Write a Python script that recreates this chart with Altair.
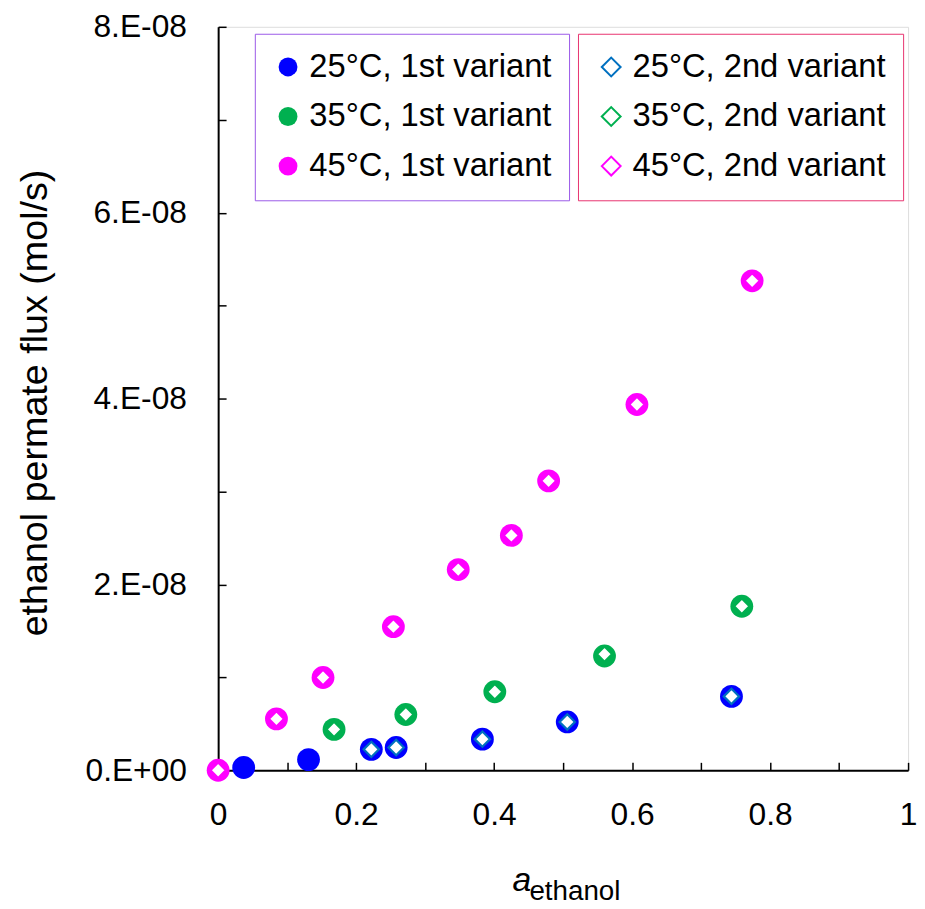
import altair as alt
import pandas as pd

# ---- data ----
x_25_first = [0.037, 0.131, 0.222, 0.258, 0.383, 0.506, 0.744]
y_25_first = [0.03e-8, 0.115e-8, 0.225e-8, 0.245e-8, 0.335e-8, 0.52e-8, 0.795e-8]
x_35_first = [0.168, 0.272, 0.401, 0.560, 0.759]
y_35_first = [0.44e-8, 0.60e-8, 0.845e-8, 1.23e-8, 1.765e-8]
x_45_first = [0.0, 0.0845, 0.152, 0.254, 0.348, 0.425, 0.479, 0.607, 0.774]
y_45_first = [0.0, 0.553e-8, 0.998e-8, 1.545e-8, 2.16e-8, 2.527e-8, 3.114e-8, 3.936e-8, 5.267e-8]

x_25_second = [0.222, 0.258, 0.383, 0.506, 0.744]
y_25_second = [0.225e-8, 0.245e-8, 0.335e-8, 0.52e-8, 0.795e-8]
x_35_second = [0.168, 0.272, 0.401, 0.560, 0.759]
y_35_second = [0.44e-8, 0.60e-8, 0.845e-8, 1.25e-8, 1.765e-8]
x_45_second = [0.0, 0.0845, 0.152, 0.254, 0.348, 0.425, 0.479, 0.607, 0.774]
y_45_second = [0.0, 0.553e-8, 0.998e-8, 1.545e-8, 2.16e-8, 2.527e-8, 3.114e-8, 3.936e-8, 5.267e-8]

first_labels = ["25°C, 1st variant", "35°C, 1st variant", "45°C, 1st variant"]
second_labels = ["25°C, 2nd variant", "35°C, 2nd variant", "45°C, 2nd variant"]
first_colors = ["#0000FF", "#00B050", "#FF00FF"]
second_colors = ["#0070C0", "#00B050", "#FF00FF"]

x_ticks = [0, 0.1, 0.2, 0.3, 0.4, 0.5, 0.6, 0.7, 0.8, 0.9, 1.0]
y_ticks = [0, 1e-8, 2e-8, 3e-8, 4e-8, 5e-8, 6e-8, 7e-8, 8e-8]

y_title = "ethanol permate flux (mol/s)"
x_title_main = "a"
x_title_sub = "ethanol"


def frame(xs, ys, label):
    return pd.DataFrame({"x": xs, "y": ys, "series": label})


first = pd.concat([
    frame(x_25_first, y_25_first, first_labels[0]),
    frame(x_35_first, y_35_first, first_labels[1]),
    frame(x_45_first, y_45_first, first_labels[2]),
])
second = pd.concat([
    frame(x_25_second, y_25_second, second_labels[0]),
    frame(x_35_second, y_35_second, second_labels[1]),
    frame(x_45_second, y_45_second, second_labels[2]),
])

FONT = "Liberation Sans"

x_scale = alt.Scale(domain=[0, 1], nice=False, zero=False)
y_scale = alt.Scale(domain=[0, 8e-8], nice=False)

x_axis = alt.Axis(
    values=x_ticks,
    labelExpr="round(datum.value*10) % 2 == 0 ? (datum.value == 0 ? '0' : (datum.value > 0.99 ? '1' : format(datum.value, '.1f'))) : ''",
    title=None,
    tickSize={"expr": "-8"},
    labelPadding=38,
    labelFontSize=32,
    labelFont=FONT,
    labelColor="black",
    labelFlush=False,
    labelOverlap=False,
    grid=False,
    domainColor="black",
    domainWidth=2,
    tickColor="black",
    tickWidth=1.5,
)
y_axis = alt.Axis(
    values=y_ticks,
    labelExpr="datum.value < 1e-12 ? '0.E+00' : (round(datum.value*1e8) % 2 == 0 ? round(datum.value*1e8) + '.E-08' : '')",
    title=y_title,
    titleFont=FONT,
    titleFontSize=38,
    titleFontWeight="normal",
    titleColor="black",
    titleX=-184,
    titleY=379,
    titleAngle=270,
    titleAlign="center",
    titleBaseline="middle",
    tickSize={"expr": "-8"},
    labelPadding=40,
    labelFontSize=32,
    labelFont=FONT,
    labelColor="black",
    labelFlush=False,
    labelOverlap=False,
    grid=False,
    domainColor="black",
    domainWidth=2,
    tickColor="black",
    tickWidth=1.5,
)

legend_common = dict(
    title=None,
    orient="none",
    labelFont=FONT,
    labelFontSize=33,
    labelColor="black",
    labelLimit=0,
    labelOffset=5,
    padding=17,
    symbolOffset=0,
    rowPadding=16,
    symbolSize=361,
    legendY=7,
)

circles = alt.Chart(first).mark_circle(size=530, opacity=1).encode(
    x=alt.X("x:Q", scale=x_scale, axis=x_axis),
    y=alt.Y("y:Q", scale=y_scale, axis=y_axis),
    color=alt.Color(
        "series:N",
        scale=alt.Scale(domain=first_labels, range=first_colors),
        legend=alt.Legend(
            legendX=37,
            strokeColor="#9B59E8",
            symbolType="circle",
            **legend_common,
        ),
    ),
)

diamonds = alt.Chart(second).mark_point(
    shape="diamond", size=240, fill="white", fillOpacity=1, strokeWidth=2.2, opacity=1
).encode(
    x=alt.X("x:Q", scale=x_scale, axis=x_axis),
    y=alt.Y("y:Q", scale=y_scale, axis=y_axis),
    stroke=alt.Stroke(
        "series:N",
        scale=alt.Scale(domain=second_labels, range=second_colors),
        legend=alt.Legend(
            legendX=363,
            strokeColor="#E8336E",
            symbolType="diamond",
            symbolStrokeWidth=2,
            symbolFillColor="white",
            **legend_common,
        ),
    ),
)

title_a = alt.Chart(pd.DataFrame({"t": [x_title_main]})).mark_text(
    font=FONT, fontSize=34, fontStyle="italic", align="left", baseline="alphabetic", color="black"
).encode(text="t:N", x=alt.value(297), y=alt.value(872))

title_sub = alt.Chart(pd.DataFrame({"t": [x_title_sub]})).mark_text(
    font=FONT, fontSize=28, align="left", baseline="alphabetic", color="black"
).encode(text="t:N", x=alt.value(314), y=alt.value(881))

chart = alt.layer(circles, diamonds, title_a, title_sub).resolve_scale(
    color="independent", stroke="independent"
).properties(
    width=696,
    height=750,
    autosize=alt.AutoSizeParams(type="none"),
    padding={"left": 212, "top": 15, "right": 9, "bottom": 140},
).configure_view(
    stroke="black", strokeWidth=1.5
).configure_legend(
    strokeWidth=1.5
).configure(background="white")

chart.save("out.html", embed_options={"renderer": "svg", "actions": False})
